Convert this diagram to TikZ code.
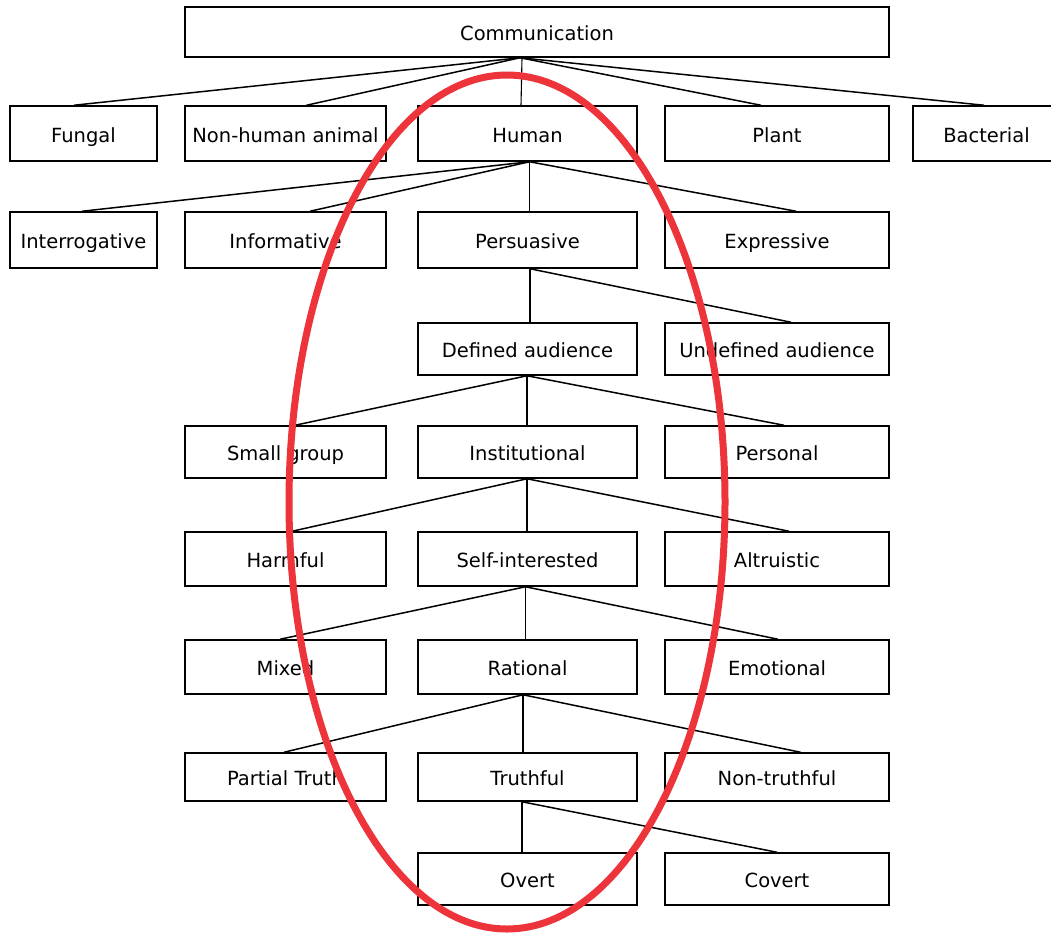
\documentclass[tikz,border=0pt]{standalone}
\usepackage{fontspec}
\setmainfont{DejaVu Sans}
\definecolor{ovalred}{RGB}{236,52,58}
\tikzset{
  box/.style={draw, line width=1.5pt, inner sep=0pt, text height=18pt, text depth=1pt, font=\fontsize{19.5}{23}\selectfont},
  link/.style={line width=1.5pt},
  vlink/.style={line width=1.1pt},
  oval/.style={draw=ovalred, line width=7pt}
}
\newcommand\bxnode[6]{\node[box, minimum width={#4-#2}, minimum height={#5-#3}] (#1) at ({(#2+#4)/2},{(#3+#5)/2}) {#6};}
\begin{document}
\begin{tikzpicture}[x=1pt,y=-1pt]
\useasboundingbox (0,0) rectangle (1051,935);
% row 1
\bxnode{comm}{185}{7}{889}{57}{Communication}
% row 2
\bxnode{fungal}{10}{106}{157}{161}{Fungal}
\bxnode{nonhuman}{185}{106}{386}{161}{Non-human animal}
\bxnode{human}{418}{106}{637}{161}{Human}
\bxnode{plant}{665}{106}{889}{161}{Plant}
\bxnode{bact}{913}{106}{1060}{161}{Bacterial}
% row 3
\bxnode{interr}{10}{212}{157}{268}{Interrogative}
\bxnode{inform}{185}{212}{386}{268}{Informative}
\bxnode{persu}{418}{212}{637}{268}{Persuasive}
\bxnode{expr}{665}{212}{889}{268}{Expressive}
% row 4
\bxnode{defaud}{418}{323}{637}{375}{Defined audience}
\bxnode{undefaud}{665}{323}{889}{375}{Undefined audience}
% row 5
\bxnode{small}{185}{426}{386}{478}{Small group}
\bxnode{instit}{418}{426}{637}{478}{Institutional}
\bxnode{personal}{665}{426}{889}{478}{Personal}
% row 6
\bxnode{harm}{185}{532}{386}{586}{Harmful}
\bxnode{selfint}{418}{532}{637}{586}{Self-interested}
\bxnode{altru}{665}{532}{889}{586}{Altruistic}
% row 7
\bxnode{mixed}{185}{640}{386}{694}{Mixed}
\bxnode{ration}{418}{640}{637}{694}{Rational}
\bxnode{emot}{665}{640}{889}{694}{Emotional}
% row 8
\bxnode{partial}{185}{753}{386}{801}{Partial Truth}
\bxnode{truth}{418}{753}{637}{801}{Truthful}
\bxnode{nontruth}{665}{753}{889}{801}{Non-truthful}
% row 9
\bxnode{overt}{418}{853}{637}{905}{Overt}
\bxnode{covert}{665}{853}{889}{905}{Covert}
% connectors
\coordinate (c0) at ([xshift=-17pt]comm.south);
\draw[link] (c0) -- ([xshift=-9.5pt]fungal.north);
\draw[link] (c0) -- ([xshift=21pt]nonhuman.north);
\draw[vlink] ([xshift=2pt]c0) -- ([xshift=-6.5pt]human.north);
\draw[link] (c0) -- ([xshift=-16pt]plant.north);
\draw[link] (c0) -- ([xshift=-2.5pt]bact.north);
\coordinate (c1) at ([xshift=2pt]human.south);
\draw[link] (c1) -- ([xshift=-1.5pt]interr.north);
\draw[link] (c1) -- ([xshift=24.5pt]inform.north);
\draw[vlink] (c1) -- ([xshift=2pt]persu.north);
\draw[link] (c1) -- ([xshift=19pt]expr.north);
\coordinate (c2) at ([xshift=2.5pt]persu.south);
\draw[vlink] (c2) -- ([xshift=2.5pt]defaud.north);
\draw[link] (c2) -- ([xshift=14pt]undefaud.north);
\coordinate (c3) at ([xshift=-0.5pt]defaud.south);
\draw[link] (c3) -- ([xshift=9.5pt]small.north);
\draw[vlink] (c3) -- ([xshift=-0.5pt]instit.north);
\draw[link] (c3) -- ([xshift=7pt]personal.north);
\coordinate (c4) at ([xshift=-0.5pt]instit.south);
\draw[link] (c4) -- ([xshift=6.5pt]harm.north);
\draw[vlink] (c4) -- ([xshift=-0.5pt]selfint.north);
\draw[link] (c4) -- ([xshift=12pt]altru.north);
\coordinate (c5) at ([xshift=-2pt]selfint.south);
\draw[link] (c5) -- ([xshift=-5.5pt]mixed.north);
\draw[vlink] (c5) -- ([xshift=-2pt]ration.north);
\draw[link] (c5) -- ([xshift=1pt]emot.north);
\coordinate (c6) at ([xshift=-4.5pt]ration.south);
\draw[link] (c6) -- ([xshift=-1.5pt]partial.north);
\draw[vlink] (c6) -- ([xshift=-4.5pt]truth.north);
\draw[link] (c6) -- ([xshift=23.5pt]nontruth.north);
\coordinate (c7) at ([xshift=-5.5pt]truth.south);
\draw[vlink] (c7) -- ([xshift=-5.5pt]overt.north);
\draw[link] (c7) -- ([xshift=0pt]covert.north);
% red oval
\draw[oval] (507,502) ellipse [x radius=218, y radius=427];
\end{tikzpicture}
\end{document}
